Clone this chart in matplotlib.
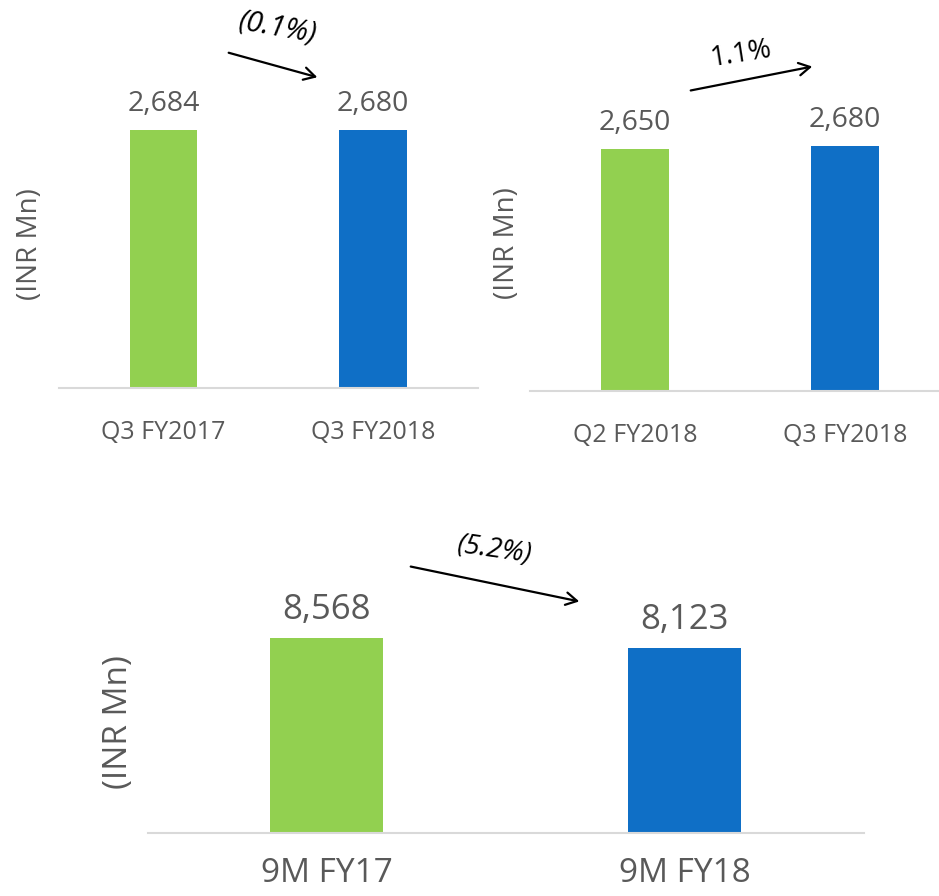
import matplotlib.pyplot as plt

plt.rcParams['font.family'] = ['Open Sans', 'DejaVu Sans']

# data
q_cats = ["Q3 FY2017", "Q3 FY2018"]
q_vals = [2684, 2680]
q_labels = ["2,684", "2,680"]

qoq_cats = ["Q2 FY2018", "Q3 FY2018"]
qoq_vals = [2650, 2680]
qoq_labels = ["2,650", "2,680"]

nm_cats = ["9M FY17", "9M FY18"]
nm_vals = [8568, 8123]
nm_labels = ["8,568", "8,123"]

growth = ["(0.1%)", "1.1%", "(5.2%)"]

GREEN = "#92D050"
BLUE = "#0F6FC6"
GREY = "#595959"

W, H = 939, 896
fig = plt.figure(figsize=(W / 100, H / 100), dpi=100)


def px_axes(left, right, bottom, top):
    return fig.add_axes([left / W, 1 - bottom / H, (right - left) / W, (bottom - top) / H])


def panel(ax, cats, vals, labels, ymax, width, vfs, cfs, tick_pad, lab_off, ylab_fs, ylab_xy):
    x = range(len(cats))
    ax.bar(x, vals, width=width, color=[GREEN, BLUE])
    ax.set_xlim(-0.5, len(cats) - 0.5)
    ax.set_ylim(0, ymax)
    for xi, v, t in zip(x, vals, labels):
        ax.annotate(t, (xi, v), xytext=(0, lab_off), textcoords="offset points",
                    ha="center", va="baseline", fontsize=vfs, color=GREY)
    ax.set_xticks(list(x))
    ax.set_xticklabels(cats, fontsize=cfs, color=GREY)
    ax.tick_params(axis="x", length=0, pad=tick_pad)
    ax.set_yticks([])
    for s in ["top", "right", "left"]:
        ax.spines[s].set_visible(False)
    ax.spines["bottom"].set_color("#D9D9D9")
    ax.spines["bottom"].set_linewidth(1.5)
    ax.set_ylabel("(INR Mn)", fontsize=ylab_fs, color=GREY)
    ax.yaxis.set_label_coords(*ylab_xy)


ax1 = px_axes(58.75, 477.75, 388, 60)
panel(ax1, q_cats, q_vals, q_labels, 3412, 0.32, 20.5, 18, 23, 14, 20, (-0.035, 0.44))
ax2 = px_axes(530, 950, 391, 60)
panel(ax2, qoq_cats, qoq_vals, qoq_labels, 3625, 0.32, 20.5, 18, 23, 14, 20, (-0.022, 0.447))
ax3 = px_axes(147.5, 863.5, 833, 520)
panel(ax3, nm_cats, nm_vals, nm_labels, 13753, 0.316, 25, 24, 17, 14, 24, (-0.0175, 0.355))


def arrow(x0, y0, x1, y1, text, tx, ty, rot, fs):
    fig.add_artist(plt.Annotation("", xy=(x1 / W, 1 - y1 / H), xytext=(x0 / W, 1 - y0 / H),
                                  xycoords="figure fraction", textcoords="figure fraction",
                                  arrowprops=dict(arrowstyle="->,head_length=0.8,head_width=0.45",
                                                  lw=1.6, color="black")))
    fig.text(tx / W, 1 - ty / H, text, ha="center", va="center", rotation=rot,
             fontsize=fs, style="italic" if text.startswith("(") else "normal", color="black")


arrow(226, 52, 320, 78, growth[0], 278, 28, -10, 21)
arrow(688, 91, 815, 66, growth[1], 741, 54, 9, 20)
arrow(408, 566, 582, 602, growth[2], 495, 550, -8, 20)

fig.savefig("out.png", dpi=100)
